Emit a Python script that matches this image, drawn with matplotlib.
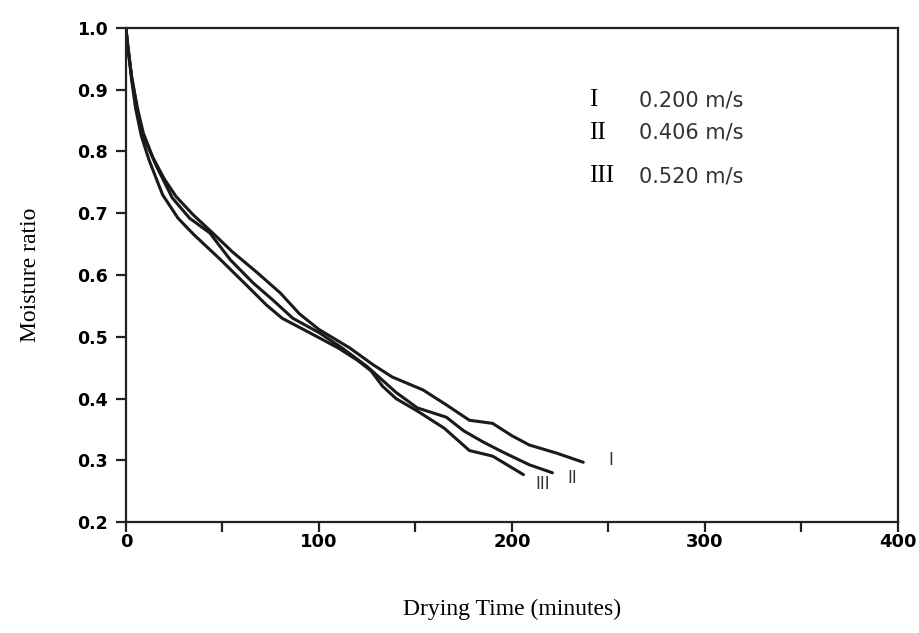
import matplotlib.pyplot as plt

# drying curves (time in minutes, moisture ratio)
t_I = [0, 1, 3, 6, 9, 14, 20, 26, 35, 45, 55, 68, 80, 90, 100, 116, 128, 138, 154, 166, 178, 190, 200, 209, 223, 237]
mr_I = [1.0, 0.97, 0.92, 0.87, 0.83, 0.79, 0.755, 0.727, 0.697, 0.668, 0.638, 0.604, 0.571, 0.537, 0.512,
        0.482, 0.455, 0.435, 0.414, 0.39, 0.365, 0.36, 0.34, 0.325, 0.312, 0.297]

t_II = [0, 1, 3, 6, 9, 16, 24, 33, 43.5, 54, 66, 76, 86.5, 100, 112, 125, 140, 151, 166, 175, 185, 195, 209, 221]
mr_II = [1.0, 0.97, 0.92, 0.865, 0.825, 0.775, 0.725, 0.692, 0.668, 0.625, 0.587, 0.56, 0.53, 0.507, 0.482,
         0.452, 0.41, 0.385, 0.37, 0.348, 0.33, 0.314, 0.293, 0.28]

t_III = [0, 1, 3, 5, 8, 12, 19, 27, 35, 49, 63, 73, 81, 95, 110, 120, 127, 133, 140, 151, 165, 178, 190, 206]
mr_III = [1.0, 0.97, 0.915, 0.87, 0.825, 0.786, 0.73, 0.692, 0.666, 0.625, 0.582, 0.551, 0.53, 0.507, 0.482,
          0.462, 0.445, 0.42, 0.4, 0.38, 0.352, 0.316, 0.307, 0.277]

curve_names = ["I", "II", "III"]
velocities = ["0.200 m/s", "0.406 m/s", "0.520 m/s"]

x_ticks = [0, 50, 100, 150, 200, 250, 300, 350, 400]
x_labels = ["0", "", "100", "", "200", "", "300", "", "400"]
y_ticks = [0.2, 0.3, 0.4, 0.5, 0.6, 0.7, 0.8, 0.9, 1.0]

fig = plt.figure(figsize=(9.19, 6.33), dpi=100)
ax = fig.add_axes([0.137, 0.175, 0.840, 0.781])

for t, mr in [(t_I, mr_I), (t_II, mr_II), (t_III, mr_III)]:
    ax.plot(t, mr, color="#1a1a1a", lw=2.2, solid_capstyle="round", solid_joinstyle="round")

ax.set_xlim(0, 400)
ax.set_ylim(0.2, 1.0)
ax.set_xticks(x_ticks)
ax.set_xticklabels(x_labels, fontsize=13, fontweight="heavy")
ax.set_yticks(y_ticks)
ax.set_yticklabels([f"{v:.1f}" for v in y_ticks], fontsize=12.5, fontweight="heavy")
ax.tick_params(direction="out", length=7, width=1.6, color="#222222")
ax.tick_params(axis="x", pad=1)
ax.tick_params(axis="y", pad=6)
for s in ax.spines.values():
    s.set_linewidth(1.6)
    s.set_color("#222222")

ax.set_xlabel("Drying Time (minutes)", family="Liberation Serif", fontsize=17, labelpad=34)
ax.set_ylabel("Moisture ratio", family="Liberation Serif", fontsize=17, labelpad=26)

# legend written as text like in the original
legend_y = [0.883, 0.830, 0.760]
for name, vel, y in zip(curve_names, velocities, legend_y):
    ax.text(240, y, name, family="Liberation Serif", fontsize=18, va="center")
    ax.text(266, y, vel, family="DejaVu Sans", fontsize=15, va="center", color="#333333")

# labels at the curve ends
ax.text(250, 0.30, "I", fontsize=12, va="center", color="#333333")
ax.text(229, 0.272, "II", fontsize=12, va="center", color="#333333")
ax.text(212, 0.262, "III", fontsize=12, va="center", color="#333333")

fig.savefig("out.png", dpi=100)
